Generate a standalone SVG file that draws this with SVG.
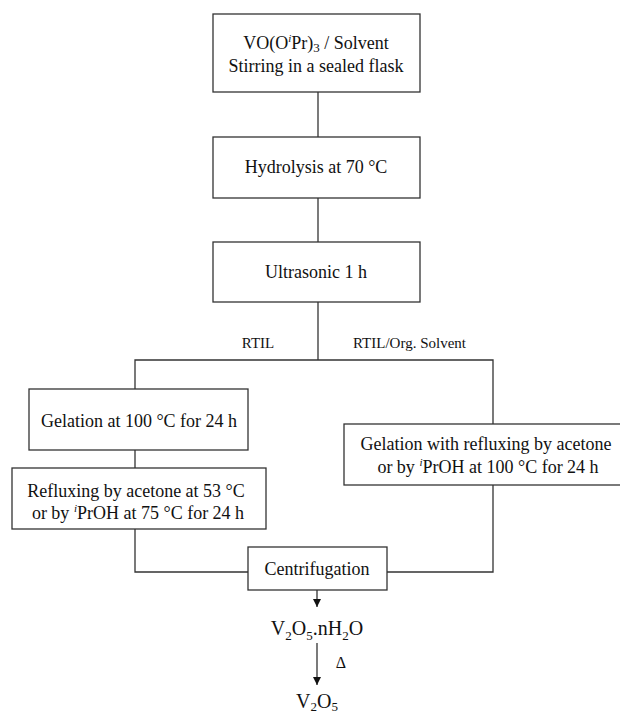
<svg xmlns="http://www.w3.org/2000/svg" width="620" height="716" viewBox="0 0 620 716">
<defs>
<style>
.box{fill:#fff;stroke:#333;stroke-width:1.3}
.ln{fill:none;stroke:#333;stroke-width:1.3}
text{font-family:"Liberation Serif","Times New Roman",serif;fill:#111}
.t{font-size:18px;text-anchor:middle}
.lb{font-size:15px}
.f{font-size:20px;text-anchor:middle}
.sup{font-size:11px;font-style:italic}
.sub{font-size:13px}
</style>
<marker id="ah" markerWidth="8" markerHeight="8" refX="8" refY="4" orient="auto" markerUnits="userSpaceOnUse">
<path d="M0,0 L8,4 L0,8 Z" fill="#111"/>
</marker>
</defs>
<rect width="620" height="716" fill="#fff"/>
<g id="connectors">
<path class="ln" d="M318,92 V137"/>
<path class="ln" d="M318,198 V242"/>
<path class="ln" d="M318,302 V360"/>
<path class="ln" d="M135,389 V360 H493 V424"/>
<path class="ln" d="M135,450 V468"/>
<path class="ln" d="M135,529 V572 H248"/>
<path class="ln" d="M493,485 V572 H387"/>
<path class="ln" d="M317,590 V607" marker-end="url(#ah)"/>
<path class="ln" d="M317,643 V685" marker-end="url(#ah)"/>
<text class="lb" x="258" y="348" text-anchor="middle">RTIL</text>
<text class="lb" x="353" y="348">RTIL/Org. Solvent</text>
<text x="341" y="668" font-size="16" text-anchor="middle">Δ</text>
</g>
<g id="n1">
<rect class="box" x="213" y="14" width="207" height="78"/>
<text class="t" x="316" y="49">VO(O<tspan class="sup" dy="-7">i</tspan><tspan dy="7">Pr)</tspan><tspan class="sub" dy="3">3</tspan><tspan dy="-3"> / Solvent</tspan></text>
<text class="t" x="316" y="72">Stirring in a sealed flask</text>
</g>
<g id="n2">
<rect class="box" x="213" y="137" width="207" height="61"/>
<text class="t" x="316" y="173">Hydrolysis at 70 °C</text>
</g>
<g id="n3">
<rect class="box" x="213" y="242" width="207" height="60"/>
<text class="t" x="316" y="278">Ultrasonic 1 h</text>
</g>
<g id="n4">
<rect class="box" x="29" y="389" width="219" height="61"/>
<text class="t" x="139" y="427">Gelation at 100 °C for 24 h</text>
</g>
<g id="n5">
<rect class="box" x="12" y="468" width="254" height="61"/>
<text class="t" x="136" y="497">Refluxing by acetone at 53 °C</text>
<text class="t" x="138" y="519">or by <tspan class="sup" dy="-7">i</tspan><tspan dy="7">PrOH at 75 °C for 24 h</tspan></text>
</g>
<g id="n6">
<rect class="box" x="344" y="424" width="290" height="61"/>
<text class="t" x="486" y="450">Gelation with refluxing by acetone</text>
<text class="t" x="488" y="473">or by <tspan class="sup" dy="-7">i</tspan><tspan dy="7">PrOH at 100 °C for 24 h</tspan></text>
</g>
<g id="n7">
<rect class="box" x="248" y="547" width="139" height="43"/>
<text class="t" x="317" y="575">Centrifugation</text>
</g>
<g id="n8">
<text class="f" x="317" y="635">V<tspan class="sub" dy="5">2</tspan><tspan dy="-5">O</tspan><tspan class="sub" dy="5">5</tspan><tspan dy="-5">.nH</tspan><tspan class="sub" dy="5">2</tspan><tspan dy="-5">O</tspan></text>
</g>
<g id="n9">
<text class="f" x="317" y="708">V<tspan class="sub" dy="3">2</tspan><tspan dy="-3">O</tspan><tspan class="sub" dy="3">5</tspan></text>
</g>
</svg>
